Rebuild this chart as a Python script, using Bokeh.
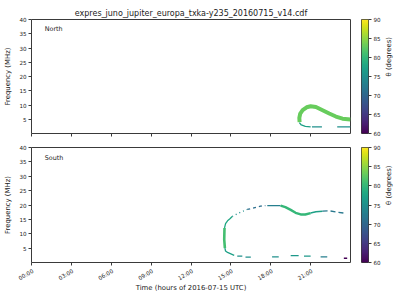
import numpy as np
from bokeh.plotting import figure
from bokeh.layouts import row, column
from bokeh.models import Range1d, FixedTicker, LinearColorMapper, Label, ColumnDataSource
from bokeh.core.properties import value
from bokeh.palettes import Viridis256
from bokeh.transform import linear_cmap
from bokeh.embed import file_html
from bokeh.resources import INLINE

TITLE = "expres_juno_jupiter_europa_txka-y235_20160715_v14.cdf"
x_ticks = [0, 3, 6, 9, 12, 15, 18, 21]
x_tick_labels = ["00:00", "03:00", "06:00", "09:00", "12:00", "15:00", "18:00", "21:00"]
y_ticks = [5, 10, 15, 20, 25, 30, 35, 40]
cbar_ticks = [60, 65, 70, 75, 80, 85, 90]
theta_min, theta_max = 60, 90
t_min, t_max = 0, 24
x_label = "Time (hours of 2016-07-15 UTC)"
y_label = "Frequency (MHz)"
cbar_label = "θ (degrees)"

# North hemisphere emission: time (h), frequency (MHz), run id
north_t = [20.17, 20.15, 20.22, 20.4, 20.7, 21.0, 21.4, 21.9, 22.4, 22.9, 23.4, 24.0,
           20.15, 20.3, 20.6, 21.0,
           21.1, 21.85,
           23.0, 24.0]
north_f = [4.0, 5.5, 7.0, 8.2, 9.2, 9.55, 9.3, 8.15, 7.0, 5.95, 5.2, 4.9,
           3.8, 3.0, 2.5, 2.3,
           2.35, 2.35,
           2.35, 2.35]
north_run = [0] * 12 + [1] * 4 + [2] * 2 + [3] * 2
north_run_theta = [83, 77, 75, 75]

# South hemisphere emission
south_t = [14.55, 14.5, 14.52,
           14.52, 14.6, 14.75, 14.95, 15.1,
           14.55, 14.6, 14.75, 15.0, 15.25,
           15.1, 15.48, 15.86, 16.23,
           16.23, 16.73, 17.23, 17.6,
           17.74, 18.74,
           18.74, 19.1, 19.5, 19.87, 20.25, 20.6, 21.0,
           21.0, 21.4, 21.9,
           21.9, 22.4, 23.0, 23.5,
           15.48, 15.86,
           16.1, 16.5,
           18.1, 18.6,
           19.5, 20.1,
           20.5, 21.0,
           21.75, 22.25,
           23.5, 23.75]
south_f = [5.0, 8.0, 12.0,
           12.0, 13.5, 14.5, 15.3, 16.0,
           5.0, 4.0, 3.5, 3.0, 2.5,
           16.0, 16.95, 17.75, 18.45,
           18.45, 19.0, 19.6, 19.8,
           19.8, 19.8,
           19.8, 19.25, 18.3, 17.3, 16.7, 16.7, 17.2,
           17.2, 17.65, 17.85,
           17.85, 18.0, 17.5, 17.2,
           2.2, 2.2,
           1.85, 1.85,
           1.95, 1.95,
           2.4, 2.4,
           2.2, 2.2,
           1.95, 1.95,
           1.5, 1.5]
south_run = ([0] * 3 + [1] * 5 + [2] * 5 + [3] * 4 + [4] * 4 + [5] * 2 + [6] * 7 + [7] * 3 + [8] * 4
             + [9] * 2 + [10] * 2 + [11] * 2 + [12] * 2 + [13] * 2 + [14] * 2 + [15] * 2)
south_run_theta = [81, 78, 77, 75, 71, 73, 80, 77, 72, 75, 75, 75, 76, 76, 73, 60]

# styles (line widths in px and dash patterns) per run
north_style_width = [4.0, 1.3, 1.3, 1.3]
north_style_dash = ["solid", "solid", "solid", "solid"]
south_style_width = [2.6, 1.3, 1.3, 1.2, 1.3, 1.3, 2.4, 1.6, 1.3, 1.3, 1.3, 1.3, 1.3, 1.3, 1.3, 1.6]
south_style_dash = ["solid", "solid", "solid", "1 3", "3 3", "solid", "solid", "solid", "5 3",
                    "solid", "solid", "solid", "solid", "solid", "solid", "solid"]

FONT = "DejaVu Sans"
TICK_SIZE = "5.6px"
LABEL_SIZE = "6.9px"
FRAME_COLOR = "#3a3a3a"
TEXT_COLOR = "#222222"

# layout (px)
LEFT, FRAME_W, RIGHT = 31, 319, 1
P1_TOP, P1_FRAME_H, P1_BOT = 19, 114, 7
P2_TOP, P2_FRAME_H, P2_BOT = 7, 115, 5
STRIP_H = 300 - (P1_TOP + P1_FRAME_H + P1_BOT) - (P2_TOP + P2_FRAME_H + P2_BOT)


def style_axis(ax):
    ax.axis_line_color = None
    ax.major_tick_line_color = FRAME_COLOR
    ax.minor_tick_line_color = None
    ax.major_tick_in = 0
    ax.major_tick_out = 3
    ax.major_label_text_font = FONT
    ax.major_label_text_font_size = TICK_SIZE
    ax.major_label_text_color = TEXT_COLOR
    ax.major_label_standoff = 2
    ax.axis_label_text_font = FONT
    ax.axis_label_text_font_size = LABEL_SIZE
    ax.axis_label_text_font_style = "normal"
    ax.axis_label_text_color = TEXT_COLOR
    ax.axis_label_standoff = 4


def panel(t, f, run, run_theta, widths, dashes, name, btop, fh, bbot, title=None):
    p = figure(width=LEFT + FRAME_W + RIGHT, height=btop + fh + bbot,
               x_range=Range1d(t_min, t_max), y_range=Range1d(0, 40),
               output_backend="svg", toolbar_location=None, title=title,
               min_border_left=LEFT, min_border_right=RIGHT, min_border_top=btop, min_border_bottom=bbot)
    p.grid.visible = False
    p.outline_line_color = FRAME_COLOR
    p.outline_line_width = 1
    p.border_fill_color = "white"
    style_axis(p.xaxis[0])
    style_axis(p.yaxis[0])
    p.xaxis.ticker = FixedTicker(ticks=x_ticks)
    p.yaxis.ticker = FixedTicker(ticks=y_ticks)
    p.yaxis.axis_label = y_label
    p.xaxis.major_label_overrides = {k: "" for k in x_ticks}
    p.xaxis.major_label_text_font_size = "1px"
    p.xaxis.major_label_standoff = 0
    groups = {}
    for r in sorted(set(run)):
        idx = [i for i, k in enumerate(run) if k == r]
        g = groups.setdefault(dashes[r], dict(xs=[], ys=[], theta=[], w=[]))
        g["xs"].append([t[i] for i in idx])
        g["ys"].append([f[i] for i in idx])
        g["theta"].append(run_theta[r])
        g["w"].append(widths[r])
    for d, g in groups.items():
        p.multi_line("xs", "ys", source=ColumnDataSource(g),
                     line_color=linear_cmap("theta", Viridis256, theta_min, theta_max),
                     line_width="w", line_dash=d, line_cap="butt", line_join="round")
    p.add_layout(Label(x=1.0, y=36.5, text=name, text_font=FONT, text_font_size="6.4px",
                       text_baseline="middle", text_color=TEXT_COLOR))
    return p


def cbar(btop, fh, bbot):
    c = figure(width=49, height=btop + fh + bbot, x_range=Range1d(0, 1),
               y_range=Range1d(theta_min, theta_max),
               output_backend="svg", toolbar_location=None, x_axis_location=None, y_axis_location="right",
               min_border_left=10, min_border_right=32, min_border_top=btop, min_border_bottom=bbot)
    c.grid.visible = False
    c.outline_line_color = FRAME_COLOR
    c.outline_line_width = 1
    c.border_fill_color = "white"
    mapper = LinearColorMapper(palette=Viridis256, low=theta_min, high=theta_max)
    grad = np.linspace(theta_min, theta_max, 256).reshape(256, 1)
    c.image(image=[grad], x=0, y=theta_min, dw=1, dh=theta_max - theta_min, color_mapper=mapper)
    style_axis(c.yaxis[0])
    c.yaxis.ticker = FixedTicker(ticks=cbar_ticks)
    c.yaxis.axis_label = cbar_label
    c.yaxis.axis_label_standoff = 5
    if hasattr(c.yaxis[0], "axis_label_orientation"):
        c.yaxis.axis_label_orientation = np.pi / 2
    return c


p1 = panel(north_t, north_f, north_run, north_run_theta, north_style_width, north_style_dash,
           "North", P1_TOP, P1_FRAME_H, P1_BOT, title=TITLE)
p1.title.align = "center"
p1.title.text_font = FONT
p1.title.text_font_size = "8px"
p1.title.text_font_style = "normal"
p1.title.text_color = TEXT_COLOR
p1.title.standoff = 3

p2 = panel(south_t, south_f, south_run, south_run_theta, south_style_width, south_style_dash,
           "South", P2_TOP, P2_FRAME_H, P2_BOT)

c1 = cbar(P1_TOP, P1_FRAME_H, P1_BOT)
c2 = cbar(P2_TOP, P2_FRAME_H, P2_BOT)

# strip below the lower panel for the rotated time labels and the axis title;
# its x scale is the lower panel's, extended over the left/right borders
px_per_h = FRAME_W / (t_max - t_min)
strip = figure(width=LEFT + FRAME_W + RIGHT, height=STRIP_H,
               x_range=Range1d(t_min - LEFT / px_per_h, t_max + RIGHT / px_per_h),
               y_range=Range1d(0, STRIP_H), output_backend="svg", toolbar_location=None,
               x_axis_location=None, y_axis_location=None,
               min_border_left=0, min_border_right=0, min_border_top=0, min_border_bottom=0)
strip.outline_line_color = None
strip.grid.visible = False
strip.text(x=x_ticks, y=[STRIP_H - 0.5] * len(x_ticks), text=x_tick_labels, angle=np.pi / 6,
           text_align="right", text_baseline="top", text_font=value(FONT),
           text_font_size=TICK_SIZE, text_color=TEXT_COLOR)
strip.text(x=[(t_min + t_max) / 2], y=[13], text=[x_label], text_align="center",
           text_baseline="middle", text_font=value(FONT), text_font_size=LABEL_SIZE,
           text_color=TEXT_COLOR)

layout = column(row(p1, c1), row(p2, c2), strip)
open("out.html", "w").write(file_html(layout, INLINE))
